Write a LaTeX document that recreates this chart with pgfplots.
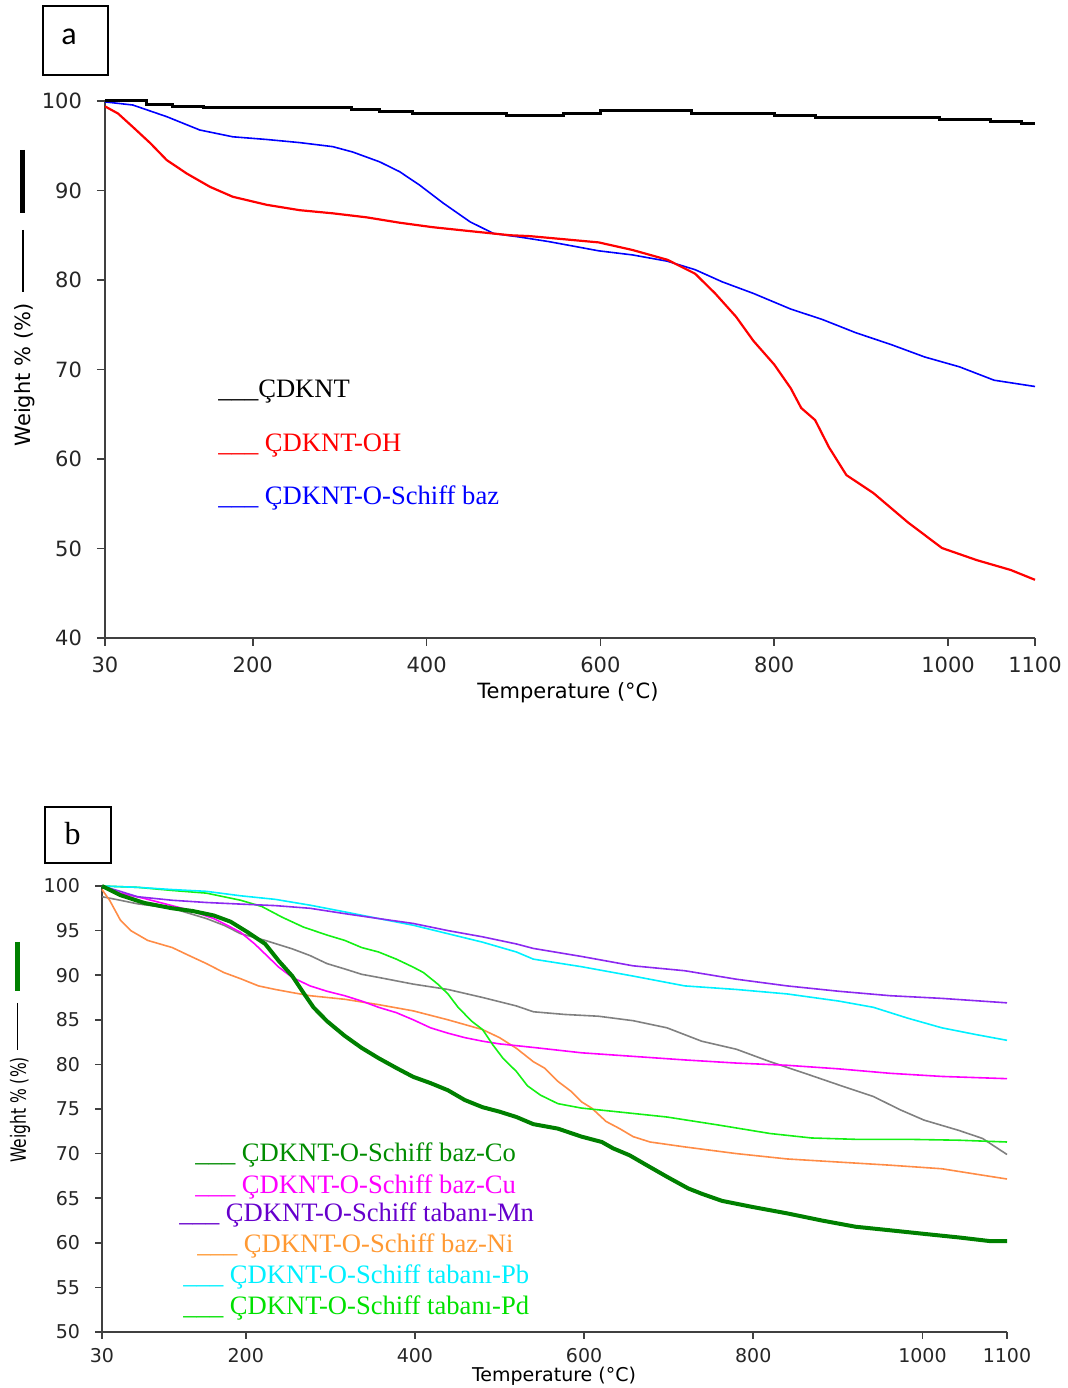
\documentclass[border=0pt]{standalone}
\usepackage{fontspec}
\setmainfont{Liberation Serif}
\newfontfamily\tickfont{DejaVu Sans}
\newfontfamily\calfont{Carlito}
\usepackage{pgfplots}
\pgfplotsset{compat=1.18}

\definecolor{cored}{RGB}{255,0,0}
\definecolor{coblue}{RGB}{0,0,255}
\definecolor{cogreen}{RGB}{0,128,0}
\definecolor{cotext}{RGB}{0,140,0}
\definecolor{cumag}{RGB}{255,0,255}
\definecolor{mnline}{RGB}{140,40,240}
\definecolor{mntext}{RGB}{102,0,204}
\definecolor{niline}{RGB}{255,140,70}
\definecolor{nitext}{RGB}{255,153,51}
\definecolor{pbcyan}{RGB}{0,240,255}
\definecolor{pdline}{RGB}{20,240,20}
\definecolor{pdtext}{RGB}{0,225,0}
\definecolor{grayline}{RGB}{128,128,128}

\pgfplotsset{
  tga/.style={
    scale only axis,
    axis lines=left,
    axis line style={-, line width=1pt, black!75},
    tick align=outside,
    major tick length=4pt,
    tick style={line width=0.8pt, black!75},
    xmin=30, xmax=1100,
    xtick={30,200,400,600,800,1000,1100},
    xticklabels={30,200,400,600,800,1000,1100},
    ticklabel style={font=\tickfont\fontsize{10.5}{12}\selectfont, text=black!85},
    yticklabel style={xshift=-4pt},
    xticklabel style={yshift=-2pt},
    /pgf/number format/assume math mode=true,
    clip=false,
  },
}

\begin{document}
\begin{tikzpicture}
\path[use as bounding box] (0,0) rectangle (534pt,694pt);

% panel a
\begin{axis}[tga,
  at={(52.5pt,375pt)}, anchor=south west,
  width=465pt, height=268.5pt,
  ymin=40, ymax=100, ytick={40,50,...,100},
]
\addplot[coblue, line width=0.8pt] coordinates {
(30,99.9)(62,99.55)(101,98.25)(139,96.76)(177,96.0)(216,95.7)(254,95.35)
(292,94.9)(315,94.3)(346,93.2)(369,92.1)(392,90.6)(419,88.6)(450,86.5)
(477,85.2)(507,84.8)(540,84.3)(598,83.26)(637,82.8)(677,82.1)(709,81.15)
(740,79.8)(776,78.5)(819,76.75)(855,75.6)(894,74.1)(934,72.8)(973,71.4)
(1013,70.3)(1053,68.8)(1100,68.1)};
\addplot[cored, line width=1.1pt] coordinates {
(30,99.4)(45,98.6)(62,97.1)(82,95.3)(101,93.4)(124,91.9)(151,90.4)(177,89.3)
(216,88.4)(254,87.8)(292,87.45)(331,87.0)(369,86.4)(407,85.9)(446,85.5)
(496,85.0)(519,84.9)(598,84.2)(637,83.35)(677,82.26)(709,80.7)(732,78.5)
(756,75.9)(776,73.2)(800,70.55)(819,67.9)(831,65.7)(847,64.35)(863,61.3)
(883,58.2)(914,56.2)(954,52.9)(993,50.05)(1033,48.7)(1072,47.6)(1100,46.5)};
\addplot[black, line width=1.5pt, const plot] coordinates {
(30,100)(78,99.66)(108,99.44)(143,99.3)(314,99.07)(346,98.85)(384,98.6)
(492,98.4)(558,98.64)(600,98.9)(705,98.64)(800,98.37)(847,98.16)(990,97.93)
(1049,97.7)(1084,97.5)(1100,97.5)};
\end{axis}

% panel b
\begin{axis}[tga,
  at={(51pt,28pt)}, anchor=south west,
  width=452.5pt, height=223pt,
  ymin=50, ymax=100, ytick={50,55,...,100},
  major tick length=3.5pt,
  ticklabel style={font=\tickfont\fontsize{9.5}{11}\selectfont},
  xticklabel style={yshift=1pt},
]
\addplot[grayline, line width=0.8pt] coordinates {
(30,98.8)(51.6,98.4)(72,98.0)(113,97.5)(153.5,96.35)(174,95.6)(194,94.65)
(223,93.9)(255,92.95)(276,92.2)(296,91.3)(317,90.7)(337,90.1)(357,89.75)
(398,89.0)(439,88.4)(480,87.5)(520,86.55)(540,85.9)(577,85.6)(617,85.4)
(658,84.9)(698,84.1)(739,82.6)(780,81.7)(820,80.3)(861,79.0)(901,77.7)
(942,76.4)(974,74.9)(1002,73.75)(1043,72.6)(1071,71.7)(1100,69.9)};
\addplot[niline, line width=0.8pt] coordinates {
(30,99.6)(39,98.4)(51.6,96.2)(64,95.0)(84,93.9)(113,93.1)(133,92.2)
(153.5,91.3)(174,90.3)(194,89.6)(215,88.8)(235,88.4)(255,88.05)(276,87.7)
(317,87.3)(357,86.7)(398,86.0)(439,85.0)(480,83.9)(500,83.0)(520,81.8)
(540,80.3)(553,79.6)(569,78.1)(585,76.95)(597,75.8)(609,75.1)(626,73.6)
(642,72.8)(658,71.9)(678,71.3)(719,70.75)(780,70.0)(840,69.4)(901,69.05)
(962,68.7)(1023,68.3)(1063,67.7)(1100,67.15)};
\addplot[cumag, line width=0.8pt] coordinates {
(30,99.9)(51.6,99.2)(80,98.6)(104.6,98.0)(133,97.3)(162,96.35)(178,95.6)
(194,94.8)(210.6,93.5)(227,92.0)(239,90.9)(255,89.75)(276,88.8)(296,88.2)
(317,87.7)(337,87.1)(357,86.4)(378,85.8)(398,85.0)(418.5,84.1)(439,83.5)
(459,83.0)(480,82.6)(500,82.3)(520,82.1)(540,81.9)(597,81.3)(658,80.9)
(719,80.5)(780,80.15)(840,79.9)(901,79.5)(962,79.0)(1023,78.65)(1100,78.4)};
\addplot[pdline, line width=0.8pt] coordinates {
(30,100)(72,99.85)(113,99.5)(153.5,99.2)(194,98.4)(219,97.7)(243,96.5)
(268,95.4)(296,94.5)(317,93.9)(337,93.1)(357,92.6)(378,91.8)(398,90.9)
(410,90.3)(427,89.0)(439,87.9)(451,86.4)(467,84.85)(480,83.9)(492,82.2)
(504,80.7)(520,79.2)(533,77.6)(548.5,76.55)(569,75.6)(597,75.1)(638,74.7)
(698,74.1)(759,73.2)(820,72.25)(869,71.75)(921,71.6)(982,71.6)(1043,71.5)
(1100,71.3)};
\addplot[pbcyan, line width=0.8pt] coordinates {
(30,100)(72,99.85)(113,99.6)(153.5,99.4)(194,98.9)(235,98.5)(276,97.85)
(317,97.1)(357,96.35)(398,95.6)(439,94.65)(480,93.7)(520,92.6)(540,91.8)
(597,90.95)(658,89.9)(719,88.8)(780,88.4)(840,87.9)(901,87.1)(942,86.4)
(982,85.2)(1023,84.1)(1063,83.35)(1100,82.7)};
\addplot[mnline, line width=0.8pt] coordinates {
(30,100)(51.6,99.4)(72,98.8)(113,98.4)(153.5,98.15)(194,97.97)(235,97.8)
(276,97.5)(317,96.9)(357,96.35)(398,95.8)(439,95.0)(480,94.3)(520,93.5)
(540,93.0)(597,92.1)(658,91.05)(719,90.5)(780,89.55)(840,88.8)(901,88.2)
(962,87.7)(1023,87.4)(1100,86.9)};
\addplot[cogreen, line width=2pt, line join=round] coordinates {
(30,100)(51.6,98.98)(80,98.1)(113,97.5)(137,97.2)(162,96.7)(182,96.0)
(202.5,94.8)(223,93.5)(239,91.6)(255,89.9)(268,88.05)(280,86.4)(296,84.85)
(317,83.2)(337,81.85)(357,80.7)(378,79.6)(398,78.6)(418.5,77.9)(439,77.1)
(459,76.0)(480,75.2)(500,74.7)(520,74.1)(540,73.3)(569,72.8)(597,71.9)
(621,71.3)(634,70.6)(654,69.8)(674,68.7)(698,67.4)(723,66.1)(739,65.5)
(763,64.7)(800,64.0)(840,63.3)(881,62.5)(921,61.8)(962,61.4)(1002,61.0)
(1043,60.6)(1079,60.2)(1100,60.2)};
\end{axis}

% texts and marks, in pixel units of the reference (y downwards)
\begin{scope}[x=0.5pt, y=-0.5pt, yshift=694pt]
  \draw[line width=1pt] (43,6) rectangle (108,75);
  \node[anchor=base, inner sep=0, font=\calfont\fontsize{16}{18}\selectfont] at (69,45) {a};
  \draw[line width=1pt] (45,807) rectangle (111,863);
  \node[anchor=base, inner sep=0, font=\fontsize{16}{18}\selectfont] at (72.5,845) {b};

  \draw[line width=2.5pt] (22.5,150) -- (22.5,213);
  \draw[line width=0.7pt] (23,230) -- (23,292);
  \node[rotate=90, font=\tickfont\fontsize{10.5}{12}\selectfont] at (25,375) {Weight \% (\%)};
  \node[font=\tickfont\fontsize{10.5}{12}\selectfont] at (568,693) {Temperature (°C)};

  \draw[line width=2.5pt, cogreen] (17.5,942) -- (17.5,991);
  \draw[line width=0.7pt] (17.5,1003) -- (17.5,1050);
  \node[rotate=90, font=\tickfont\fontsize{10.5}{12}\selectfont] at (20,1110) {\scalebox{0.74}[1]{Weight \% (\%)}};
  \node[anchor=base, inner sep=0, font=\tickfont\fontsize{9.5}{11}\selectfont] at (554,1382) {Temperature (°C)};

  \begin{scope}[every node/.style={anchor=base west, inner sep=0, font=\fontsize{13.3}{15}\selectfont}]
    \node[black] at (218,398) {\_\_\_ÇDKNT};
    \node[cored] at (218,452) {\_\_\_ ÇDKNT-OH};
    \node[coblue] at (218,505) {\_\_\_ ÇDKNT-O-Schiff baz};

    \node[text=cotext] at (195,1162) {\_\_\_ ÇDKNT-O-Schiff baz-Co};
    \node[text=cumag] at (195,1194) {\_\_\_ ÇDKNT-O-Schiff baz-Cu};
    \node[text=mntext] at (179,1222) {\_\_\_ ÇDKNT-O-Schiff tabanı-Mn};
    \node[text=nitext] at (197,1253) {\_\_\_ ÇDKNT-O-Schiff baz-Ni};
    \node[text=pbcyan] at (183,1284) {\_\_\_ ÇDKNT-O-Schiff tabanı-Pb};
    \node[text=pdtext] at (183,1315) {\_\_\_ ÇDKNT-O-Schiff tabanı-Pd};
  \end{scope}
\end{scope}
\end{tikzpicture}
\end{document}
